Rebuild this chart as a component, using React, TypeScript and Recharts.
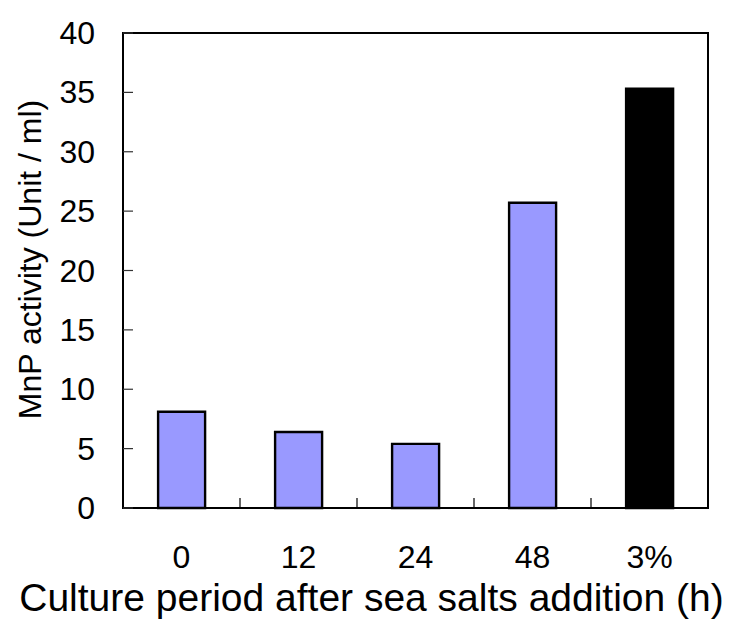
import { Bar, BarChart, Cell, Label, ReferenceArea, XAxis, YAxis } from "recharts";

const periods = ["0", "12", "24", "48", "3%"];
const activity = [8.1, 6.4, 5.4, 25.7, 35.3];
const yTicks = [0, 5, 10, 15, 20, 25, 30, 35, 40];

const data = periods.map((p, i) => ({ period: p, activity: activity[i] }));

const FONT = "'Liberation Sans', Arial, sans-serif";

function YTick(props: any) {
  const { x, y, payload } = props;
  return (
    <g>
      <line x1={x + 28} x2={x + 38} y1={y} y2={y} stroke="#333" strokeWidth={1.2} />
      <text x={x} y={y} dy={11} textAnchor="end" fontSize={32} fontFamily={FONT} fill="#000">
        {payload.value}
      </text>
    </g>
  );
}

function XTick(props: any) {
  const { x, y, payload, index } = props;
  const half = payload.offset || 58.5;
  return (
    <g>
      {index < periods.length - 1 && (
        <line x1={x + half} x2={x + half} y1={y} y2={y - 10} stroke="#000" strokeWidth={1.2} />
      )}
      <text x={x} y={y} dy={60} textAnchor="middle" fontSize={32} fontFamily={FONT} fill="#000">
        {payload.value}
      </text>
    </g>
  );
}

export default function App() {
  return (
    <BarChart
      width={732}
      height={614}
      data={data}
      margin={{ top: 25, right: 32, bottom: 0, left: 0 }}
      barCategoryGap="30%"
    >
      <XAxis
        dataKey="period"
        height={114}
        tickSize={0}
        tickMargin={0}
        tickLine={false}
        axisLine={{ stroke: "#000", strokeWidth: 2 }}
        tick={<XTick />}
        interval={0}
      >
        <Label
          content={(p: any) => {
            const vb = p.viewBox;
            return (
              <text
                x={vb.x + vb.width / 2 - 44}
                y={vb.y + 103}
                textAnchor="middle"
                fontSize={39}
                fontFamily={FONT}
                fill="#000"
              >
                Culture period after sea salts addition (h)
              </text>
            );
          }}
        />
      </XAxis>
      <YAxis
        width={115}
        domain={[0, 40]}
        ticks={yTicks}
        interval={0}
        tickSize={0}
        tickMargin={28}
        tickLine={false}
        axisLine={{ stroke: "#000", strokeWidth: 2 }}
        tick={<YTick />}
      >
        <Label
          content={(p: any) => {
            const vb = p.viewBox;
            const cx = vb.x + 22;
            const cy = vb.y + vb.height / 2 - 11;
            return (
              <text
                x={cx}
                y={cy}
                transform={`rotate(-90, ${cx}, ${cy})`}
                textAnchor="middle"
                dominantBaseline="central"
                fontSize={32}
                fontFamily={FONT}
                fill="#000"
              >
                MnP activity (Unit / ml)
              </text>
            );
          }}
        />
      </YAxis>
      <ReferenceArea y1={0} y2={40} fill="none" stroke="#000" strokeWidth={2} fillOpacity={0} />
      <Bar dataKey="activity" fill="#9999FF" stroke="#000" strokeWidth={2.4} isAnimationActive={false}>
        {data.map((d, i) => (
          <Cell key={d.period} fill={i === data.length - 1 ? "#000000" : "#9999FF"} />
        ))}
      </Bar>
    </BarChart>
  );
}
